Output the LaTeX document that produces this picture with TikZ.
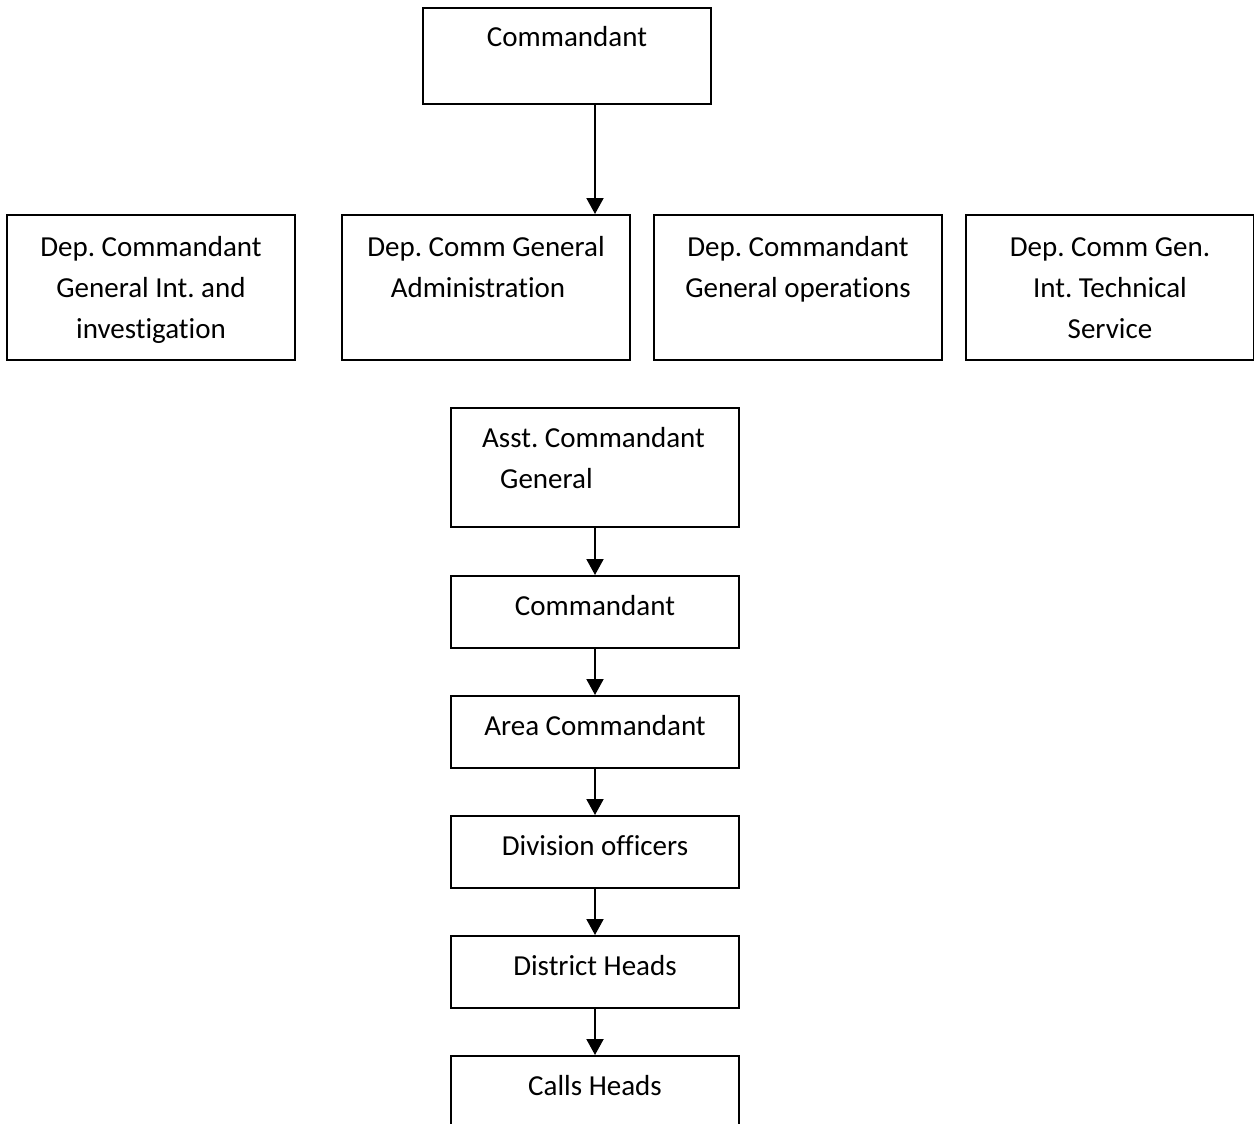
\documentclass[tikz,border=0pt]{standalone}
\usepackage{fontspec}
\setmainfont{Carlito}[Ligatures={NoCommon}]
\frenchspacing
\usetikzlibrary{arrows.meta}
\begin{document}
\begin{tikzpicture}[x=1pt,y=-1pt,
  box/.style={draw,line width=2pt,inner sep=0pt,minimum width=288pt},
  lbl/.style={anchor=base,inner sep=0pt,font=\fontsize{29}{41}\selectfont},
  lblw/.style={anchor=base west,inner sep=0pt,font=\fontsize{29}{41}\selectfont},
  arr/.style={line width=2pt,-{Triangle[width=17pt,length=16pt]}}]
\useasboundingbox (0,0) rectangle (1254,1124);
\clip (0,0) rectangle (1254,1124);
% boxes
\node[box,minimum height=96pt] (top) at (567,56) {};
\node[box,minimum height=145pt] (d1) at (151,287.5) {};
\node[box,minimum height=145pt] (d2) at (486,287.5) {};
\node[box,minimum height=145pt] (d3) at (798,287.5) {};
\node[box,minimum height=145pt] (d4) at (1109.5,287.5) {};
\node[box,minimum height=119pt] (asst) at (595,467.5) {};
\node[box,minimum height=72pt] (cmd) at (595,612) {};
\node[box,minimum height=72pt] (area) at (595,732) {};
\node[box,minimum height=72pt] (div) at (595,852) {};
\node[box,minimum height=72pt] (dist) at (595,972) {};
\node[box,minimum height=72pt] (calls) at (595,1092) {};
% texts
\node[lbl] (t0) at (567,47) {Commandant};
\node[lbl] (t1a) at (151,256) {Dep. Commandant};
\node[lbl] (t1b) at (151,297) {General Int. and};
\node[lbl] (t1c) at (151,338) {investigation};
\node[lbl] (t2a) at (486,256) {Dep. Comm General};
\node[lbl] (t2b) at (478,297) {Administration};
\node[lbl] (t3a) at (798,256) {Dep. Commandant};
\node[lbl] (t3b) at (798,297) {General operations};
\node[lbl] (t4a) at (1110,256) {Dep. Comm Gen.};
\node[lbl] (t4b) at (1110,297) {Int. Technical};
\node[lbl] (t4c) at (1110,338) {Service};
\node[lblw] (t5a) at (482,447) {Asst. Commandant};
\node[lblw] (t5b) at (500,488) {General};
\node[lbl] (t6) at (595,615) {Commandant};
\node[lbl] (t7) at (595,735) {Area Commandant};
\node[lbl] (t8) at (595,855) {Division officers};
\node[lbl] (t9) at (595,975) {District Heads};
\node[lbl] (t10) at (595,1095) {Calls Heads};
% connectors
\draw[arr] (asst.north |- top.south) -- (asst.north |- d2.north);
\draw[arr] (asst) -- (cmd);
\draw[arr] (cmd) -- (area);
\draw[arr] (area) -- (div);
\draw[arr] (div) -- (dist);
\draw[arr] (dist) -- (calls);
\end{tikzpicture}
\end{document}
